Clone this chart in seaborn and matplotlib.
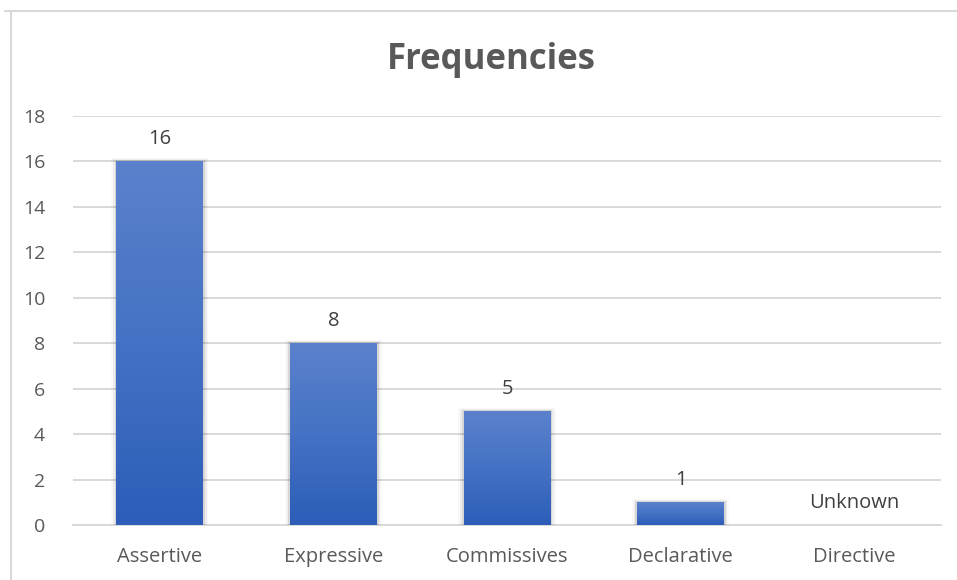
import numpy as np
import pandas as pd
import matplotlib
matplotlib.use("Agg")
import matplotlib.pyplot as plt
from matplotlib.colors import LinearSegmentedColormap
from matplotlib.patches import Rectangle
import seaborn as sns

categories = ["Assertive", "Expressive", "Commissives", "Declarative", "Directive"]
frequencies = [16, 8, 5, 1, 0]
bar_labels = ["16", "8", "5", "1", "Unknown"]
y_ticks = [0, 2, 4, 6, 8, 10, 12, 14, 16, 18]

sns.set_theme(style="white")
plt.rcParams["font.family"] = ["Open Sans", "DejaVu Sans"]

text_grey = "#595959"
grid_grey = "#d9d9d9"

df = pd.DataFrame({"category": categories, "frequency": frequencies})

fig = plt.figure(figsize=(9.57, 5.8), dpi=100)
ax = fig.add_axes([73 / 957, 1 - 525 / 580, (941 - 73) / 957, (525 - 116) / 580])

sns.barplot(data=df, x="category", y="frequency", order=categories,
            color="#4472c4", width=0.5, ax=ax, zorder=3, saturation=1,
            linewidth=0)

ax.set_ylim(0, 18)
ax.set_xlim(-0.5, len(categories) - 0.5)
ax.set_yticks(y_ticks)
ax.yaxis.grid(True, color=grid_grey, linewidth=1.4, zorder=0)
ax.set_axisbelow(True)
for side in ["top", "right", "left"]:
    ax.spines[side].set_visible(False)
ax.spines["bottom"].set_color(grid_grey)
ax.spines["bottom"].set_linewidth(1.4)
ax.spines["bottom"].set_zorder(2)
ax.set_xlabel("")
ax.set_ylabel("")
ax.tick_params(axis="both", length=0, labelsize=14, labelcolor=text_grey)
ax.tick_params(axis="y", pad=20)
ax.tick_params(axis="x", labelsize=14.5, pad=16)

# vertical gradient fill with a soft shadow for each bar
cmap = LinearSegmentedColormap.from_list("bar_grad", ["#5b81cc", "#4472c4", "#2d5db8"])
grad = np.linspace(0, 1, 256).reshape(-1, 1)
for patch in ax.patches:
    x0 = patch.get_x()
    w = patch.get_width()
    h = patch.get_height()
    patch.set_linewidth(0)
    if h <= 0:
        continue
    for k, a in enumerate([0.09, 0.05, 0.025]):
        dx = 0.01 * (k + 1)
        dy = 0.05 * (k + 1)
        ax.add_patch(Rectangle((x0 - dx, 0), w + 2 * dx, h + dy,
                               facecolor="black", alpha=a, edgecolor="none",
                               linewidth=0, zorder=2.5))
    ax.imshow(grad, cmap=cmap, aspect="auto",
              extent=(x0, x0 + w, 0, h), zorder=3.5, origin="upper")
    patch.set_facecolor("none")

ax.set_xlim(-0.5, len(categories) - 0.5)
ax.set_ylim(0, 18)

# value labels above each bar
for i, (v, lab) in enumerate(zip(frequencies, bar_labels)):
    ax.annotate(lab, xy=(i, v), xytext=(0, 9), textcoords="offset points",
                ha="center", va="bottom", fontsize=14.5, color="#404040")

fig.text(491 / 957, 1 - 60 / 580, "Frequencies", ha="center", va="center",
         fontsize=25, fontweight="bold", color=text_grey)

# chart frame
fig.add_artist(plt.Line2D([5 / 957, 1], [1 - 10.5 / 580] * 2,
                          transform=fig.transFigure, color=grid_grey, linewidth=1.5))
fig.add_artist(plt.Line2D([10.5 / 957] * 2, [0, 1 - 10.5 / 580],
                          transform=fig.transFigure, color=grid_grey, linewidth=1.5))

fig.savefig("out.png", dpi=100, facecolor="white")
